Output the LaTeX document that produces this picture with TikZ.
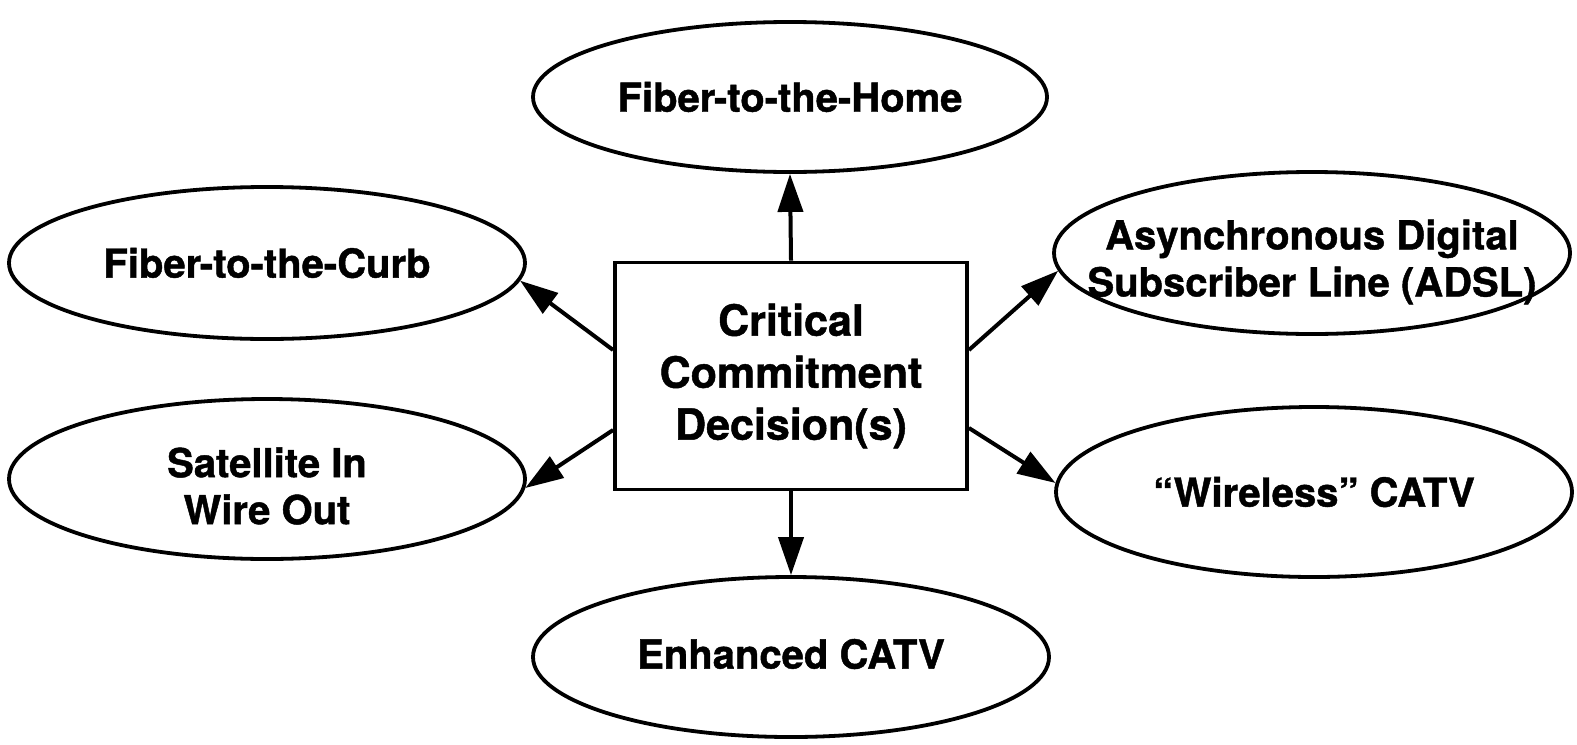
\documentclass[tikz,border=0pt]{standalone}
\usepackage{fontspec}
\setmainfont{TeX Gyre Heros}[FakeBold=1.1]
\usetikzlibrary{arrows.meta,shapes.geometric}
\begin{document}
\begin{tikzpicture}[x=0.5pt,y=-0.5pt,
  oval/.style={draw, line width=1.9pt, ellipse, inner sep=0pt},
  ovaltext/.style={inner sep=0pt, align=center,
    font=\bfseries\fontsize{20}{23.5}\selectfont},
  centerbox/.style={draw, line width=1.9pt, rectangle, inner sep=0pt, align=center,
    minimum width=176pt, minimum height=113.5pt,
    font=\bfseries\fontsize{21.5}{26}\selectfont},
  arr/.style={line width=2pt, -{Triangle[length=19pt,width=12.5pt]}}]
\useasboundingbox (0,0) rectangle (1577,744);
\node[centerbox] (box) at (791,376) {Critical\\Commitment\\Decision(s)};
\node[oval, minimum width=257pt, minimum height=75pt] (fth) at (790,97) {};
\node[ovaltext] (ftht) at (fth.center) {Fiber-to-the-Home};
\node[oval, minimum width=258pt, minimum height=76pt] (ftc) at (267,263) {};
\node[ovaltext] (ftct) at (ftc.center) {Fiber-to-the-Curb};
\node[oval, minimum width=258pt, minimum height=80pt] (sat) at (267,479) {};
\node[ovaltext, yshift=-3.5pt] (satt) at (sat.center) {Satellite In\\Wire Out};
\node[oval, minimum width=258pt, minimum height=81pt] (adsl) at (1312,253) {};
\node[ovaltext, yshift=-4.5pt] (adslt) at (adsl.center) {Asynchronous Digital\\Subscriber Line (ADSL)};
\node[oval, minimum width=258pt, minimum height=85pt] (wire) at (1314,492) {};
\node[ovaltext] (wiret) at (wire.center) {“Wireless” CATV};
\node[oval, minimum width=258pt, minimum height=80pt] (enh) at (791,657) {};
\node[ovaltext, yshift=1.5pt] (enht) at (enh.center) {Enhanced CATV};
\draw[arr] (box.north) -- (fth.south);
\draw[arr] (box.south) -- (enh.north);
\draw[arr] ([yshift=13pt]box.west) -- (ftc.-4);
\draw[arr] ([yshift=-27pt]box.west) -- (sat.-2);
\draw[arr] ([yshift=13pt]box.east) -- (adsl.184);
\draw[arr] ([yshift=-26pt]box.east) -- (wire.178);
\end{tikzpicture}
\end{document}
